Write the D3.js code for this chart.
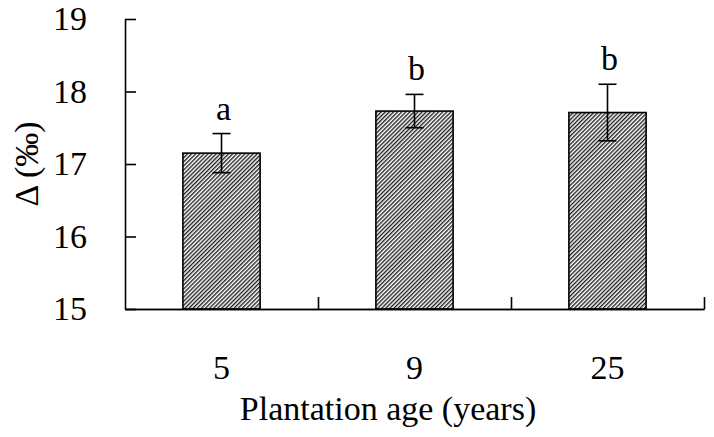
<!DOCTYPE html>
<html>
<head>
<meta charset="utf-8">
<script src="https://cdn.jsdelivr.net/npm/d3@7"></script>
<style>
  body { margin: 0; background: #fff; }
  text { font-family: "Liberation Serif", "Times New Roman", serif; }
</style>
</head>
<body>
<div id="chart"></div>
<script>
// data
var ages = ["5", "9", "25"];
var means = [17.15, 17.73, 17.71];
var errs = [0.27, 0.23, 0.39];
var letters = ["a", "b", "b"];
var yTicks = [15, 16, 17, 18, 19];

var svgWidth = 714;
var svgHeight = 437;
var plotLeft = 125, plotRight = 704, plotTop = 19, plotBottom = 309;
var fontSize = 34;

var svg = d3.select("#chart")
    .append("svg")
    .attr("width", svgWidth)
    .attr("height", svgHeight);

// hatch fill for the bars
var pattern = svg.append("defs").append("pattern")
    .attr("id", "hatch")
    .attr("patternUnits", "userSpaceOnUse")
    .attr("width", 2.9)
    .attr("height", 2.9)
    .attr("patternTransform", "rotate(45)");
pattern.append("rect")
    .attr("width", 2.9)
    .attr("height", 2.9)
    .attr("fill", "#fff");
pattern.append("line")
    .attr("x1", 0.7).attr("y1", 0)
    .attr("x2", 0.7).attr("y2", 2.9)
    .attr("stroke", "#111")
    .attr("stroke-width", 1.3);

var xScale = d3.scaleBand()
    .domain(ages)
    .range([plotLeft, plotRight])
    .paddingInner(0.6)
    .paddingOuter(0.3);

var edgeScale = d3.scaleLinear()
    .domain([0, ages.length])
    .range([plotLeft, plotRight]);

var yScale = d3.scaleLinear()
    .domain([15, 19])
    .range([plotBottom, plotTop]);

// bars
svg.append("g").selectAll("rect")
    .data(means)
    .enter()
    .append("rect")
    .attr("x", (d, i) => xScale(ages[i]))
    .attr("y", d => yScale(d))
    .attr("width", xScale.bandwidth())
    .attr("height", d => yScale(15) - yScale(d))
    .attr("fill", "url(#hatch)")
    .attr("stroke", "#000")
    .attr("stroke-width", 1.6);

// error bars
var eb = svg.append("g")
    .attr("stroke", "#000")
    .attr("stroke-width", 1.6);
means.forEach((m, i) => {
    var cx = xScale(ages[i]) + xScale.bandwidth() / 2;
    var y1 = yScale(m + errs[i]), y2 = yScale(m - errs[i]);
    eb.append("line").attr("x1", cx).attr("x2", cx).attr("y1", y1).attr("y2", y2);
    eb.append("line").attr("x1", cx - 9).attr("x2", cx + 9).attr("y1", y1).attr("y2", y1);
    eb.append("line").attr("x1", cx - 9).attr("x2", cx + 9).attr("y1", y2).attr("y2", y2);
});

// significance letters
svg.append("g").selectAll("text")
    .data(letters)
    .enter()
    .append("text")
    .attr("x", (d, i) => xScale(ages[i]) + xScale.bandwidth() / 2 + 2)
    .attr("y", (d, i) => yScale(means[i] + errs[i]) - 14)
    .attr("text-anchor", "middle")
    .attr("font-size", fontSize + "px")
    .attr("fill", "#000")
    .text(d => d);

// y axis
var yAxisCall = d3.axisLeft(yScale)
    .tickValues(yTicks)
    .tickSizeInner(-11)
    .tickSizeOuter(0)
    .tickPadding(38)
    .tickFormat(d3.format("d"));

var yAxisGroup = svg.append("g")
    .attr("transform", `translate(${plotLeft},0)`)
    .call(yAxisCall);

// x axis: labels under bars, ticks at category edges
var xAxisGroup = svg.append("g")
    .attr("transform", `translate(0,${plotBottom})`)
    .call(d3.axisBottom(xScale).tickSize(0).tickSizeOuter(0).tickPadding(46));

svg.append("g")
    .attr("transform", `translate(0,${plotBottom})`)
    .call(d3.axisBottom(edgeScale)
        .tickValues([1, 2, 3])
        .tickSizeInner(-12)
        .tickSizeOuter(0)
        .tickFormat(""));

svg.selectAll(".domain, .tick line")
    .attr("stroke", "#000")
    .attr("stroke-width", 1.6);
svg.selectAll(".tick text")
    .attr("font-family", "Liberation Serif, Times New Roman, serif")
    .attr("font-size", fontSize + "px")
    .attr("fill", "#000");

// axis titles
svg.append("text")
    .attr("x", 388)
    .attr("y", 420)
    .attr("text-anchor", "middle")
    .attr("font-size", fontSize + "px")
    .text("Plantation age (years)");

svg.append("text")
    .attr("transform", `translate(38,${(plotTop + plotBottom) / 2}) rotate(-90)`)
    .attr("text-anchor", "middle")
    .attr("font-size", fontSize + "px")
    .text("Δ (‰)");
</script>
</body>
</html>
